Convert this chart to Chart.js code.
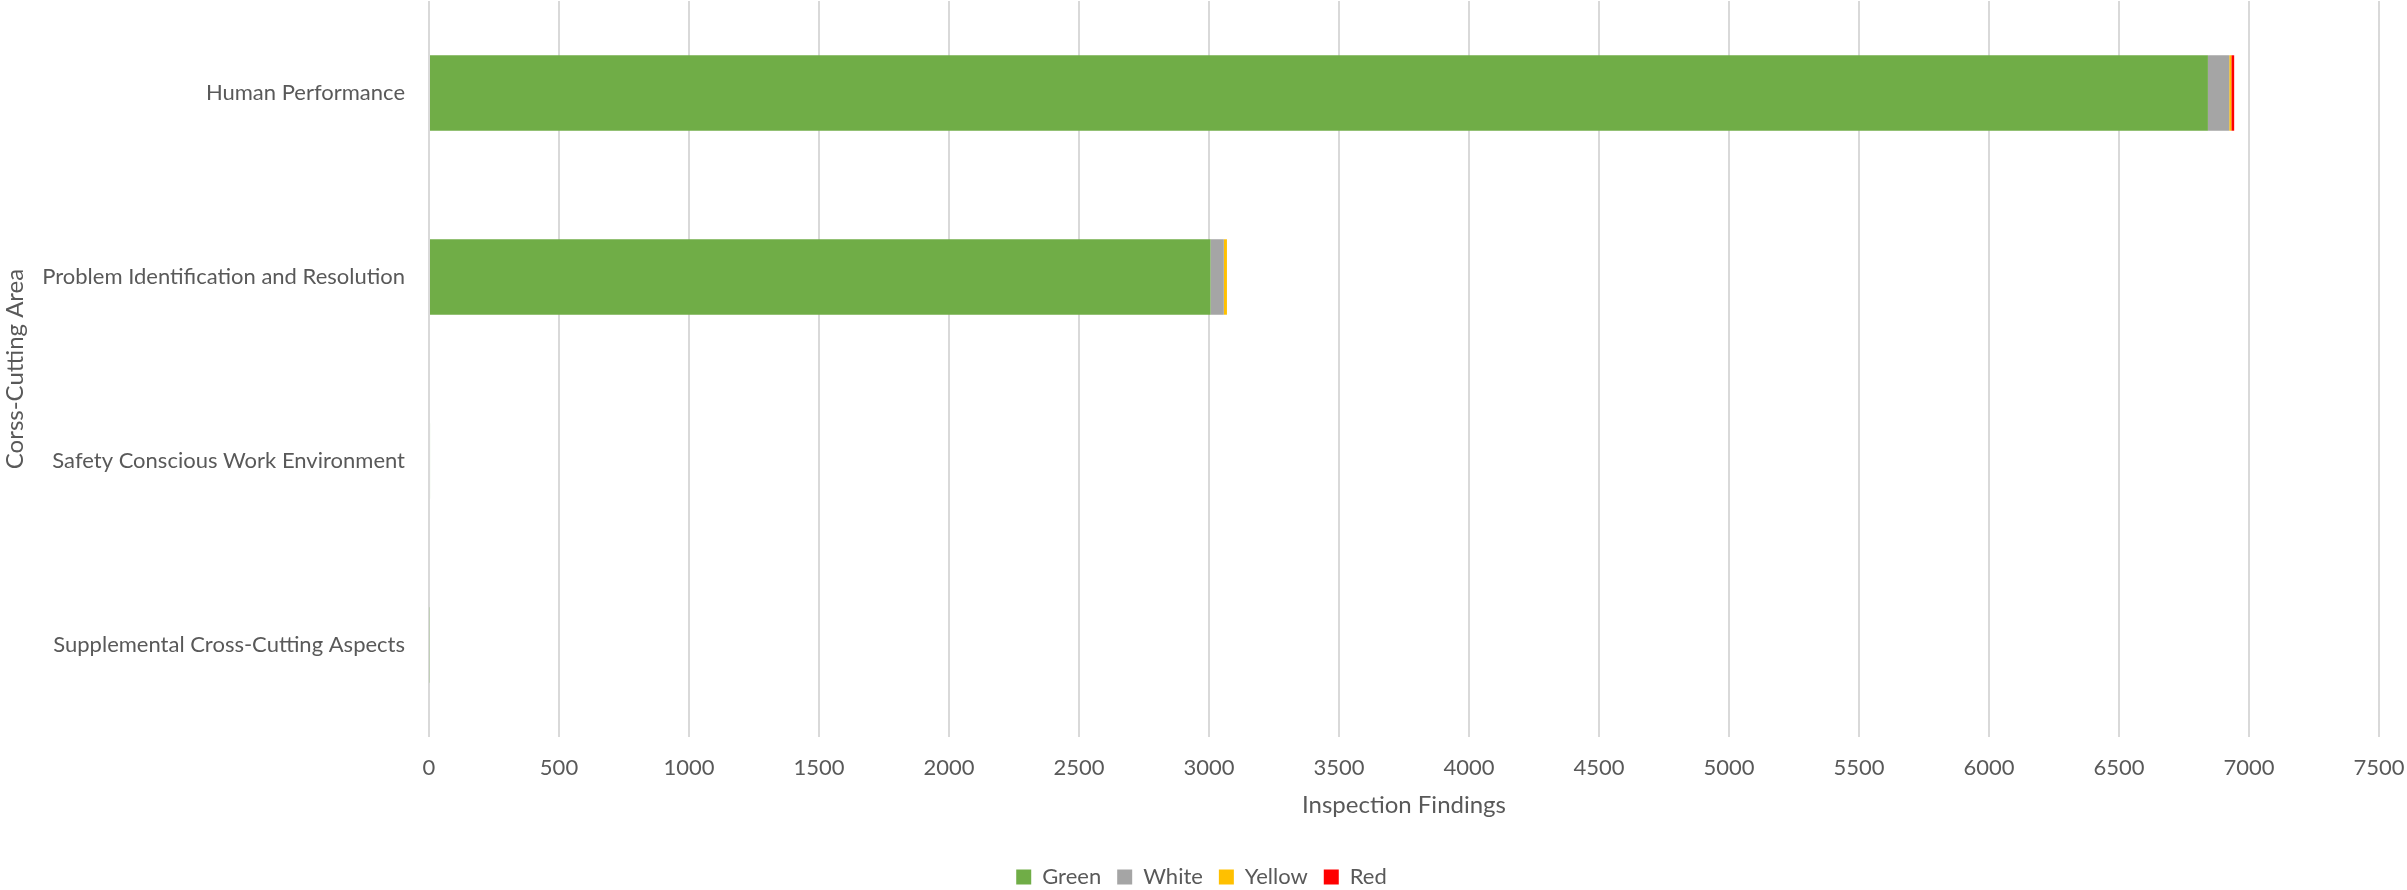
<!DOCTYPE html>
<html>
<head>
<meta charset="utf-8">
<script src="https://cdn.jsdelivr.net/npm/chart.js@4"></script>
<style>
  html, body { margin: 0; padding: 0; background: #fff; }
  #wrap { width: 2407px; height: 890px; }
</style>
</head>
<body>
<div id="wrap"><canvas id="c" width="2407" height="890"></canvas></div>
<script>
// Cross-cutting areas and the findings count per significance colour
const areas = [
  "Human Performance",
  "Problem Identification and Resolution",
  "Safety Conscious Work Environment",
  "Supplemental Cross-Cutting Aspects"
];
const green  = [6842, 3006, 4, 3];
const white  = [82, 51, 0, 0];
const yellow = [8, 12, 0, 0];
const red    = [11, 0, 0, 0];
const xTicks = [0, 500, 1000, 1500, 2000, 2500, 3000, 3500, 4000, 4500, 5000, 5500, 6000, 6500, 7000, 7500];

const FONT = "Lato, 'Open Sans', sans-serif";
const TEXT = "#595959";
const NONE = "rgba(0,0,0,0)";

new Chart(document.getElementById("c"), {
  type: "bar",
  data: {
    labels: areas,
    datasets: [
      { label: "Green",  data: green,  backgroundColor: "#70AD47" },
      { label: "White",  data: white,  backgroundColor: "#A5A5A5" },
      { label: "Yellow", data: yellow, backgroundColor: "#FFC000" },
      { label: "Red",    data: red,    backgroundColor: "#FF0000" }
    ]
  },
  options: {
    indexAxis: "y",
    responsive: false,
    animation: false,
    datasets: { bar: { categoryPercentage: 1, barPercentage: 0.41, borderWidth: 0 } },
    layout: { padding: { top: 1, right: 28, bottom: -8, left: 24 } },
    scales: {
      x: {
        stacked: true,
        min: xTicks[0], max: xTicks[xTicks.length - 1],
        afterBuildTicks: (s) => { s.ticks = xTicks.map(v => ({ value: v })); },
        // spacing below the plot comes from an invisible tick mark, so the
        // label padding doesn't widen the right margin
        ticks: { color: TEXT, font: { family: FONT, size: 22, lineHeight: 1.2 }, padding: 0,
                 callback: (v) => String(v) },
        grid: { color: "#D9D9D9", lineWidth: 2, drawTicks: true, tickLength: 18, tickColor: NONE },
        border: { display: false },
        title: { display: true, text: "Inspection Findings", color: TEXT,
                 font: { family: FONT, size: 24 }, padding: { top: 0, bottom: 30 } },
        afterFit: (s) => { s.height = 113; }
      },
      y: {
        stacked: true,
        // tiny line height keeps the category labels from padding the top of the plot
        ticks: { color: TEXT, font: { family: FONT, size: 22, lineHeight: 0.05 }, padding: 0 },
        grid: { display: false, drawTicks: true, tickLength: 24, tickColor: NONE },
        border: { display: false },
        title: { display: true, text: "Corss-Cutting Area", color: TEXT,
                 font: { family: FONT, size: 24 }, padding: { top: -23, bottom: 0 } },
        afterFit: (s) => { s.width = 405; }
      }
    },
    plugins: {
      legend: {
        position: "bottom",
        labels: { color: TEXT, font: { family: FONT, size: 22 }, boxWidth: 15, boxHeight: 15, padding: 16 }
      },
      tooltip: { enabled: false }
    }
  }
});
</script>
</body>
</html>
